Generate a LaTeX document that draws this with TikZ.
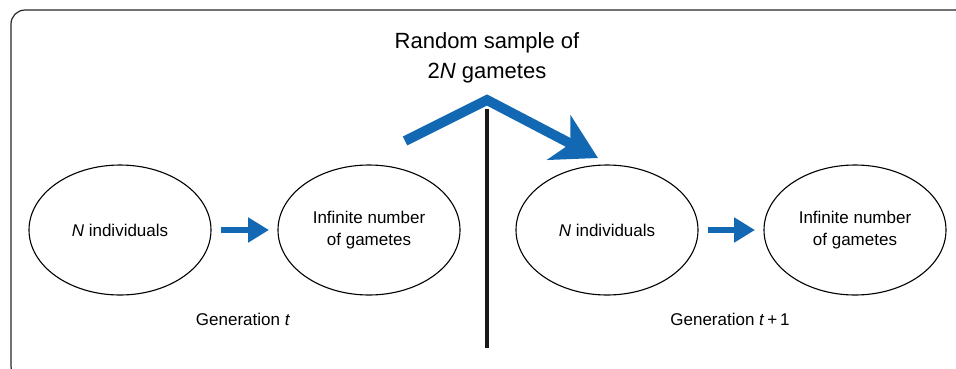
\documentclass[tikz,border=0pt]{standalone}
\usepackage{fontspec}
\setmainfont{Liberation Sans}
\usetikzlibrary{shapes.geometric,arrows.meta}
\definecolor{sampleblue}{RGB}{18,104,178}

\begin{document}
\begin{tikzpicture}[x=1pt,y=-1pt,
  pop/.style={ellipse,draw,line width=1.1pt,minimum width=182pt,minimum height=130pt,
    inner sep=0pt,outer sep=0pt,align=center,font=\fontsize{17}{22}\selectfont},
  genarrow/.style={draw=sampleblue,line width=6.5pt,-{Triangle[length=21pt,width=24pt,fill=sampleblue]},
    shorten <=10pt,shorten >=9pt},
  genlabel/.style={anchor=base,font=\fontsize{17}{20}\selectfont}]
\useasboundingbox (0,0) rectangle (956,368);

% frame, runs off the right and bottom edges
\draw[line width=1.2pt,draw=black!85,rounded corners=14pt] (11,10) rectangle (975,380);

% generation t
\node[pop] (ind1) at (120,230) {\textit{N} individuals};
\node[pop] (gam1) at (369,230) {Infinite number\\of gametes};
\node[genlabel] (gen1) at (243,325) {Generation \textit{t}};
\draw[genarrow] (ind1) -- (gam1);

% generation t+1
\node[pop] (ind2) at (607,230) {\textit{N} individuals};
\node[pop] (gam2) at (855,230) {Infinite number\\of gametes};
\node[genlabel] (gen2) at (730,325) {Generation \textit{t}\,+\,1};
\draw[genarrow] (ind2) -- (gam2);

% sampling step
\node[anchor=base,align=center,font=\fontsize{22}{30}\selectfont] (title) at (487,78) {Random sample of\\2\textit{N} gametes};
\coordinate (divtop) at (487,109);
\coordinate (divbot) at (487,348);
\draw[line width=3.5pt,draw=black!90] (divtop) -- (divbot);

\coordinate (vstart) at (405,141);
\coordinate (vapex) at (487,100);
\coordinate (vend) at (598,158);
\draw[draw=sampleblue,line width=10pt,line join=miter,
  -{Stealth[length=44pt,width=50pt,inset=13pt,fill=sampleblue]}] (vstart) -- (vapex) -- (vend);
\end{tikzpicture}
\end{document}
